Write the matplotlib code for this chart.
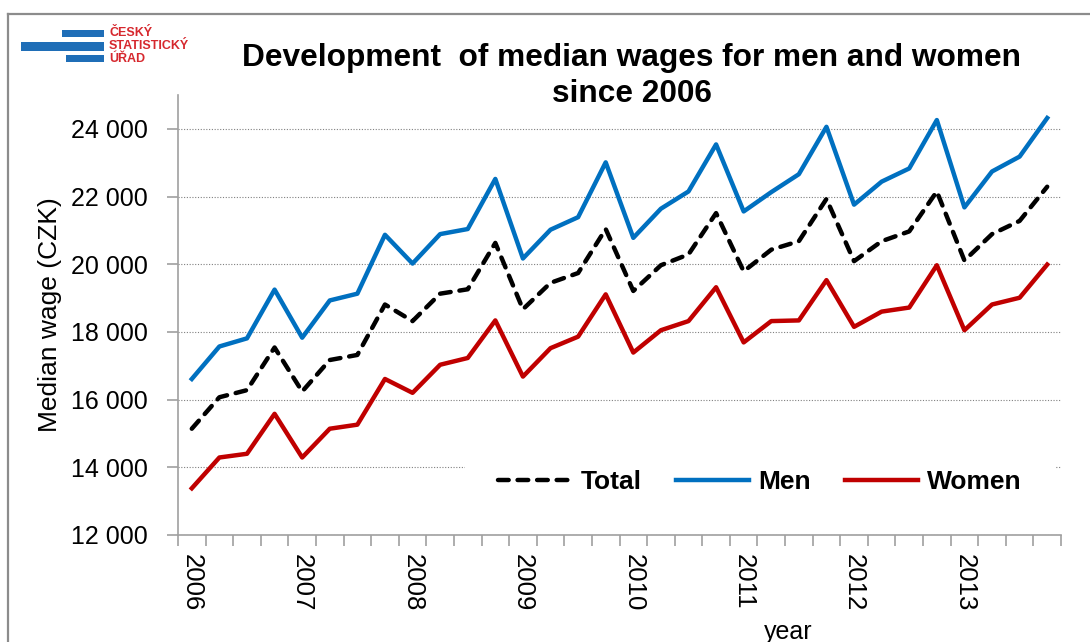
import numpy as np
import matplotlib
matplotlib.use("Agg")
from matplotlib import pyplot as plt
from matplotlib.ticker import FuncFormatter, FixedLocator
from matplotlib.patches import Rectangle
from matplotlib.lines import Line2D

plt.rcParams['font.family'] = ['Liberation Sans', 'DejaVu Sans']

# quarterly median wages 2006 Q1 - 2013 Q4 (CZK)
years = ['2006', '2007', '2008', '2009', '2010', '2011', '2012', '2013']
total = [15140, 16070, 16280, 17540, 16240, 17170, 17320, 18810,
         18320, 19130, 19260, 20630, 18670, 19450, 19740, 21040,
         19210, 19970, 20290, 21510, 19790, 20430, 20680, 21930,
         20090, 20680, 20970, 22150, 20110, 20890, 21280, 22290]
men = [16610, 17570, 17810, 19250, 17830, 18930, 19130, 20870,
       20020, 20890, 21040, 22520, 20170, 21020, 21390, 23010,
       20780, 21640, 22150, 23540, 21560, 22130, 22660, 24060,
       21760, 22440, 22830, 24260, 21680, 22740, 23180, 24320]
women = [13380, 14290, 14400, 15580, 14290, 15140, 15260, 16610,
         16200, 17030, 17230, 18340, 16680, 17520, 17860, 19110,
         17390, 18050, 18320, 19320, 17690, 18320, 18340, 19530,
         18150, 18600, 18720, 19970, 18050, 18810, 19010, 19990]

W, H = 1090, 642
fig = plt.figure(figsize=(W / 100, H / 100), dpi=100)
ax = fig.add_axes([178 / W, 1 - 535 / H, (1061 - 178) / W, (535 - 95) / H])

x = np.arange(len(total))
ax.plot(x, total, color='black', lw=3.2, linestyle=(0, (2.4, 2.0)),
        dash_capstyle='round', label='Total', zorder=3)
ax.plot(x, men, color='#0070C0', lw=3.2, label='Men', zorder=3)
ax.plot(x, women, color='#C00000', lw=3.2, label='Women', zorder=3)

ax.set_xlim(-0.5, len(total) - 0.5)
ax.set_ylim(12000, 25000)
ax.set_yticks(np.arange(12000, 24001, 2000))
ax.yaxis.set_major_formatter(FuncFormatter(lambda v, p: f"{v:,.0f}".replace(",", " ")))
ax.grid(axis='y', linestyle=(0, (1, 1.5)), color='#808080', lw=0.8)
ax.set_axisbelow(True)

# year labels at first quarter, tick marks between quarters
ax.set_xticks(np.arange(0, len(total), 4))
ax.set_xticklabels(years, rotation=270, fontsize=18.5)
ax.xaxis.set_minor_locator(FixedLocator(np.arange(-0.5, len(total), 1)))
ax.tick_params(axis='x', which='major', length=0, pad=14)
ax.tick_params(axis='x', which='minor', length=8, color='#a0a0a0', width=1.2)
ax.tick_params(axis='y', length=8, color='#a0a0a0', width=1.2, labelsize=18, pad=14)

for s in ['top', 'right']:
    ax.spines[s].set_visible(False)
for s in ['left', 'bottom']:
    ax.spines[s].set_color('#a0a0a0')
    ax.spines[s].set_linewidth(1.2)

ax.set_ylabel('Median wage (CZK)', fontsize=19, labelpad=6)

# white box behind legend (cuts gridline)
ax.add_patch(Rectangle((0.325, 0.06), 0.668, 0.13, transform=ax.transAxes,
                       facecolor='white', edgecolor='none', zorder=1))
ax.legend(loc='center', bbox_to_anchor=(0.659, 0.121), ncol=3, frameon=False,
          prop={'weight': 'bold', 'size': 19}, handlelength=2.77,
          handletextpad=0.35, columnspacing=1.3)

fig.text(632 / W, 1 - 76 / H, 'Development  of median wages for men and women\nsince 2006',
         ha='center', va='center', fontsize=22.8, fontweight='bold', linespacing=1.22)
fig.text(788 / W, 1 - 632 / H, 'year', ha='center', va='center', fontsize=18)

# outer frame
fig.add_artist(Line2D([8 / W, 1.0], [1 - 14 / H, 1 - 14 / H], color='#8c8c8c', lw=1.6))
fig.add_artist(Line2D([8 / W, 8 / W], [0, 1 - 14 / H], color='#8c8c8c', lw=1.6))

# logo
blue = '#1F6EB7'
for x0, y0, x1, y1 in [(62, 30, 104, 37), (21, 42, 104, 51), (66, 55, 104, 62)]:
    fig.add_artist(Rectangle((x0 / W, 1 - y1 / H), (x1 - x0) / W, (y1 - y0) / H,
                             facecolor=blue, edgecolor='none'))
for yy, t in [(33, 'ČESKÝ'), (46, 'STATISTICKÝ'), (59, 'ÚŘAD')]:
    fig.text(109 / W, 1 - yy / H, t, color='#D6282E', fontsize=9,
             fontweight='bold', va='center', ha='left')

fig.savefig('out.png', dpi=100)
